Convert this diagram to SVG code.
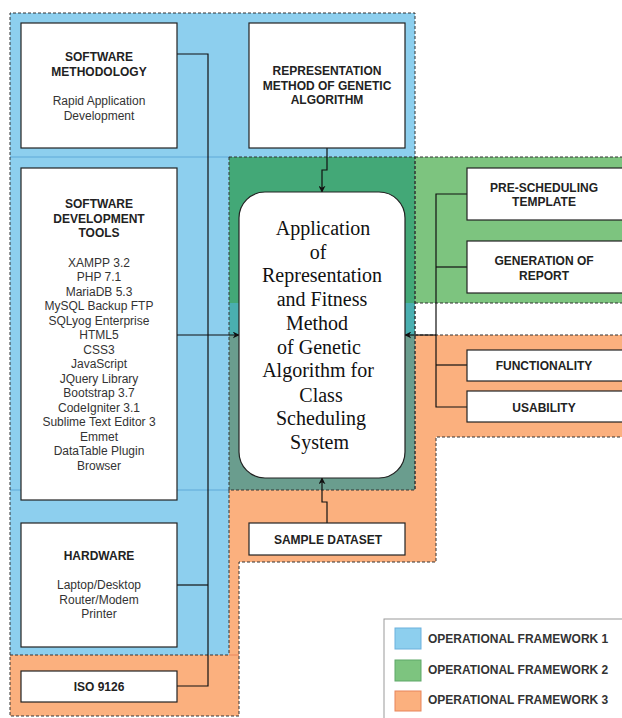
<svg xmlns="http://www.w3.org/2000/svg" width="622" height="718" viewBox="0 0 622 718">
<style>
.bx{fill:#fff;stroke:#222;stroke-width:1.2}
.dash{fill:none;stroke:#333;stroke-width:1;stroke-dasharray:3 2}
.t{font-family:"Liberation Sans",Arial,sans-serif;font-size:12px;fill:#333;text-anchor:middle}
.b{font-weight:bold;fill:#222}
.c{font-family:"Liberation Serif","Times New Roman",serif;font-size:20px;fill:#111;text-anchor:middle}
.ln{fill:none;stroke:#111;stroke-width:1.2}
.lg{font-family:"Liberation Sans",Arial,sans-serif;font-size:12px;font-weight:bold;fill:#333}
</style>
<defs>
<marker id="ar" viewBox="0 0 10 10" refX="9" refY="5" markerWidth="7" markerHeight="7" orient="auto" markerUnits="userSpaceOnUse">
<path d="M0,0 L10,5 L0,10 L3,5 Z" fill="#111"/>
</marker>
</defs>
<rect width="622" height="718" fill="#fff"/>
<g id="regions">
<!-- blue -->
<polygon points="10,13 415,13 415,490 229,490 229,655 10,655" fill="#8DCFEE"/>
<!-- green -->
<rect x="229" y="157" width="400" height="146" fill="#7DC47F"/>
<!-- orange -->
<polygon points="415,335 630,335 630,437 436,437 436,562 239,562 239,716 10,716 10,655 229,655 229,490 415,490" fill="#FBB07E"/>
<!-- middle column -->
<rect x="229" y="157" width="186" height="146" fill="#43A877"/>
<rect x="229" y="303" width="186" height="32" fill="#4AAFB0"/>
<rect x="229" y="335" width="186" height="155" fill="#6A9D8E"/>
<line x1="10" y1="157" x2="229" y2="157" stroke="#5FA9D8" stroke-width="1"/>
<line x1="10" y1="490" x2="229" y2="490" stroke="#5FA9D8" stroke-width="1"/>
<line x1="229" y1="655" x2="239" y2="655" stroke="#E8845A" stroke-width="1"/>
<!-- dashed borders -->
<polyline class="dash" points="10,655 10,13 415,13 415,490"/>
<line class="dash" x1="10" y1="655" x2="229" y2="655"/>
<rect class="dash" x="229" y="157" width="186" height="333"/>
<polyline class="dash" points="229,490 229,655"/>
<polyline class="dash" points="415,157 630,157"/>
<polyline class="dash" points="415,303 630,303"/>
<polyline class="dash" points="415,335 630,335"/>
<polyline class="dash" points="630,437 436,437 436,562 239,562 239,716 10,716 10,655"/>
</g>
<g id="connectors">
<polyline class="ln" points="177,54 208,54 208,686 177,686"/>
<line class="ln" x1="177" y1="585" x2="208" y2="585"/>
<line class="ln" x1="177" y1="335" x2="239" y2="335" marker-end="url(#ar)"/>
<polyline class="ln" points="327,148 327,170 322,170 322,192" marker-end="url(#ar)"/>
<polyline class="ln" points="327,523 327,502 322,502 322,478" marker-end="url(#ar)"/>
<polyline class="ln" points="467,194 436,194 436,407 467,407"/>
<line class="ln" x1="436" y1="267" x2="467" y2="267"/>
<line class="ln" x1="436" y1="365" x2="467" y2="365"/>
<line class="ln" x1="436" y1="335" x2="405" y2="335" marker-end="url(#ar)"/>
</g>
<g id="software-methodology">
<rect class="bx" x="21" y="23" width="156" height="125"/>
<text class="t b" x="99" y="61">SOFTWARE</text>
<text class="t b" x="99" y="75.5">METHODOLOGY</text>
<text class="t" x="99" y="105">Rapid Application</text>
<text class="t" x="99" y="119.5">Development</text>
</g>
<g id="representation-method">
<rect class="bx" x="249" y="23" width="156" height="125"/>
<text class="t b" x="327" y="75">REPRESENTATION</text>
<text class="t b" x="327" y="89.5">METHOD OF GENETIC</text>
<text class="t b" x="327" y="104">ALGORITHM</text>
</g>
<g id="software-tools">
<rect class="bx" x="21" y="168" width="156" height="332"/>
<text class="t b" x="99" y="208">SOFTWARE</text>
<text class="t b" x="99" y="222.5">DEVELOPMENT</text>
<text class="t b" x="99" y="237">TOOLS</text>
<text class="t" x="99" y="266.5">XAMPP 3.2</text>
<text class="t" x="99" y="281">PHP 7.1</text>
<text class="t" x="99" y="295.5">MariaDB 5.3</text>
<text class="t" x="99" y="310">MySQL Backup FTP</text>
<text class="t" x="99" y="324.5">SQLyog Enterprise</text>
<text class="t" x="99" y="339">HTML5</text>
<text class="t" x="99" y="353.5">CSS3</text>
<text class="t" x="99" y="368">JavaScript</text>
<text class="t" x="99" y="382.5">JQuery Library</text>
<text class="t" x="99" y="397">Bootstrap 3.7</text>
<text class="t" x="99" y="411.5">CodeIgniter 3.1</text>
<text class="t" x="99" y="426">Sublime Text Editor 3</text>
<text class="t" x="99" y="440.5">Emmet</text>
<text class="t" x="99" y="455">DataTable Plugin</text>
<text class="t" x="99" y="469.5">Browser</text>
</g>
<g id="hardware">
<rect class="bx" x="21" y="523" width="156" height="124"/>
<text class="t b" x="99" y="560">HARDWARE</text>
<text class="t" x="99" y="589">Laptop/Desktop</text>
<text class="t" x="99" y="603.5">Router/Modem</text>
<text class="t" x="99" y="618">Printer</text>
</g>
<g id="iso9126">
<rect class="bx" x="21" y="671" width="156" height="31"/>
<text class="t b" x="99" y="691">ISO 9126</text>
</g>
<g id="central">
<rect class="bx" x="239" y="192" width="166" height="286" rx="26" ry="26"/>
<text class="c" x="323" y="235">Application</text>
<text class="c" x="318" y="258.5">of</text>
<text class="c" x="322" y="282">Representation</text>
<text class="c" x="322" y="306">and Fitness</text>
<text class="c" x="317" y="330">Method</text>
<text class="c" x="319" y="353.5">of Genetic</text>
<text class="c" x="318" y="377">Algorithm for</text>
<text class="c" x="321" y="401.5">Class</text>
<text class="c" x="321" y="425">Scheduling</text>
<text class="c" x="319.5" y="449">System</text>
</g>
<g id="pre-scheduling">
<rect class="bx" x="467" y="168" width="170" height="52"/>
<text class="t b" x="544" y="191.5">PRE-SCHEDULING</text>
<text class="t b" x="544" y="206">TEMPLATE</text>
</g>
<g id="generation-report">
<rect class="bx" x="467" y="241" width="170" height="52"/>
<text class="t b" x="544" y="265">GENERATION OF</text>
<text class="t b" x="544" y="279.5">REPORT</text>
</g>
<g id="functionality">
<rect class="bx" x="467" y="350" width="170" height="31"/>
<text class="t b" x="544" y="370">FUNCTIONALITY</text>
</g>
<g id="usability">
<rect class="bx" x="467" y="391" width="170" height="31"/>
<text class="t b" x="544" y="411.5">USABILITY</text>
</g>
<g id="sample-dataset">
<rect class="bx" x="249" y="523" width="156" height="32"/>
<text class="t b" x="328" y="544">SAMPLE DATASET</text>
</g>
<g id="legend">
<rect x="384" y="619" width="250" height="110" fill="#fff" stroke="#999" stroke-width="1"/>
<rect x="395" y="628" width="26" height="21" fill="#8DCFEE" stroke="#6CB1DD"/>
<rect x="395" y="660" width="26" height="21" fill="#7DC47F" stroke="#5EA868"/>
<rect x="395" y="691" width="26" height="20" fill="#FBB07E" stroke="#E8845A"/>
<text class="lg" x="428" y="643">OPERATIONAL FRAMEWORK 1</text>
<text class="lg" x="428" y="673.5">OPERATIONAL FRAMEWORK 2</text>
<text class="lg" x="428" y="703.5">OPERATIONAL FRAMEWORK 3</text>
</g>
</svg>
